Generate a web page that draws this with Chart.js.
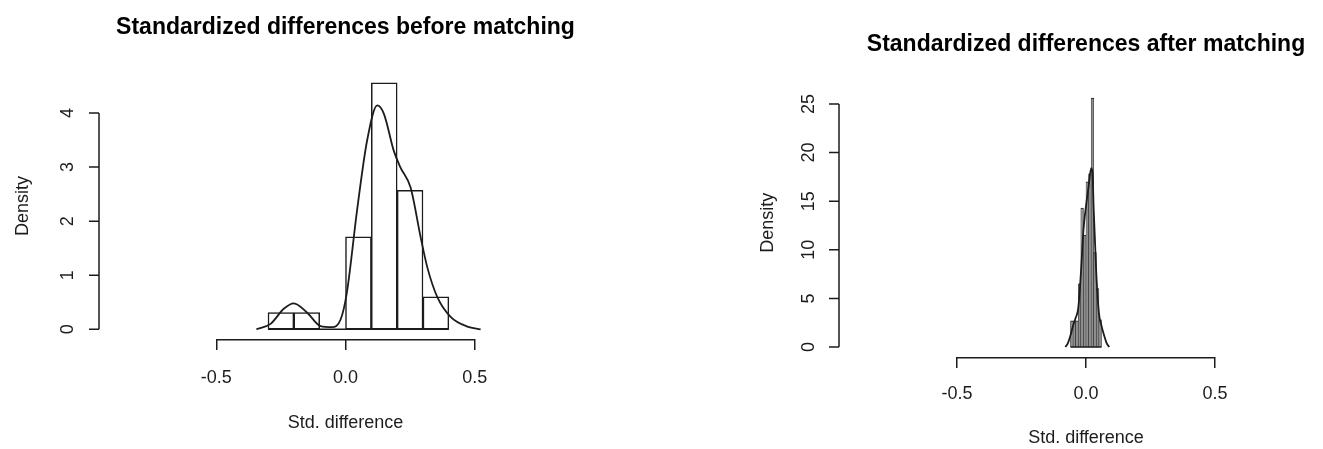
<!DOCTYPE html>
<html>
<head>
<meta charset="utf-8">
<script src="https://cdn.jsdelivr.net/npm/chart.js@4.4.1/dist/chart.umd.min.js"></script>
<style>
  html, body { margin: 0; padding: 0; background: #fff; }
  #wrap { position: relative; width: 1323px; height: 449px; overflow: hidden; }
  canvas { position: absolute; top: 0; }
  #before { left: 0; }
  #after { left: 661px; }
</style>
</head>
<body>
<div id="wrap">
  <canvas id="before" width="661" height="449"></canvas>
  <canvas id="after" width="662" height="449"></canvas>
</div>
<script>
// Standartlashtirilgan farqlar: moslashtirishdan oldin / keyin (R hist + density uslubida)

const X_TICKS = [-0.5, 0, 0.5];
const X_TICK_LABELS = ["-0.5", "0.0", "0.5"];
const X_TITLE = "Std. difference";
const Y_TITLE = "Density";

// Oldin
const BEFORE_TITLE = "Standardized differences before matching";
const BEFORE_EDGES = [-0.3, -0.2, -0.1, 0.0, 0.1, 0.2, 0.3, 0.4];
const BEFORE_DENSITY = [0.31, 0.31, 0, 1.71, 4.56, 2.57, 0.6];
const BEFORE_KDE_X = [-0.345, -0.29, -0.239, -0.2, -0.149, -0.097, -0.052, -0.019, 0.005, 0.045, 0.084, 0.123, 0.149, 0.187, 0.213, 0.252, 0.291, 0.317, 0.355, 0.407, 0.472, 0.523];
const BEFORE_KDE_Y = [0.0, 0.1, 0.38, 0.48, 0.31, 0.06, 0.04, 0.18, 0.67, 2.21, 3.5, 4.14, 3.98, 3.3, 2.99, 2.62, 1.7, 1.14, 0.6, 0.23, 0.05, 0.0];
const BEFORE_Y_TICKS = [0, 1, 2, 3, 4];

// Keyin
const AFTER_TITLE = "Standardized differences after matching";
const AFTER_EDGES = [-0.06, -0.05, -0.04, -0.03, -0.02, -0.01, 0.0, 0.01, 0.02, 0.03, 0.04, 0.05, 0.06];
const AFTER_DENSITY = [2.7, 2.7, 2.7, 6.5, 14.3, 11.5, 17.0, 17.8, 25.6, 9.7, 6.0, 2.8];
const AFTER_KDE_X = [-0.08, -0.07, -0.06, -0.05, -0.04, -0.03, -0.02, -0.01, 0.0, 0.01, 0.02, 0.025, 0.03, 0.04, 0.05, 0.06, 0.07, 0.08, 0.09];
const AFTER_KDE_Y = [0.0, 0.4, 1.2, 2.2, 3.0, 4.0, 7.5, 12.0, 14.5, 16.5, 18.4, 18.0, 14.0, 7.5, 3.5, 2.2, 1.2, 0.4, 0.0];
const AFTER_Y_TICKS = [0, 5, 10, 15, 20, 25];

const INK = "#1c1c1c";
const FONT = "'Liberation Sans', Arial, sans-serif";

Chart.defaults.font.family = FONT;
Chart.defaults.color = INK;

// R uslubidagi qisqa o'qlar: chiziq faqat birinchi va oxirgi tick orasida
const rAxes = {
  id: "rAxes",
  afterDraw(chart, args, o) {
    const { ctx, chartArea: a, scales: { x, y } } = chart;
    ctx.save();
    ctx.strokeStyle = INK;
    ctx.fillStyle = INK;
    ctx.lineWidth = 1.5;

    // x o'q chizig'i (tick va yozuvlar — Chart.js o'zi chizadi)
    const xb = a.bottom + 0.75;
    ctx.beginPath();
    ctx.moveTo(x.getPixelForValue(X_TICKS[0]), xb);
    ctx.lineTo(x.getPixelForValue(X_TICKS[X_TICKS.length - 1]), xb);
    ctx.stroke();

    // y o'q
    const yt = o.yTicks;
    ctx.beginPath();
    ctx.moveTo(o.yAxisX, y.getPixelForValue(yt[0]));
    ctx.lineTo(o.yAxisX, y.getPixelForValue(yt[yt.length - 1]));
    for (const v of yt) {
      const p = y.getPixelForValue(v);
      ctx.moveTo(o.yAxisX, p);
      ctx.lineTo(o.yAxisX - 10, p);
    }
    ctx.stroke();

    ctx.font = `18px ${FONT}`;
    ctx.textAlign = "center";
    ctx.textBaseline = "middle";
    for (const v of yt) {
      ctx.save();
      ctx.translate(o.yLabelX, y.getPixelForValue(v));
      ctx.rotate(-Math.PI / 2);
      ctx.fillText(String(v), 0, 0);
      ctx.restore();
    }
    ctx.save();
    ctx.translate(o.yTitleX, (a.top + a.bottom) / 2);
    ctx.rotate(-Math.PI / 2);
    ctx.fillText(Y_TITLE, 0, 0);
    ctx.restore();

    // sarlavha
    ctx.fillStyle = "#000";
    ctx.font = `bold 23px ${FONT}`;
    ctx.fillText(o.title, (a.left + a.right) / 2, o.titleY);
    ctx.restore();
  },
};

function histChart(el, cfg) {
  const bins = cfg.density.map((d, i) => ({ x: (cfg.edges[i] + cfg.edges[i + 1]) / 2, y: d }));
  const kde = cfg.kdeX.map((v, i) => ({ x: v, y: cfg.kdeY[i] }));
  const base = [{ x: cfg.edges[0], y: 0 }, { x: cfg.edges[cfg.edges.length - 1], y: 0 }];

  return new Chart(el, {
    type: "bar",
    data: {
      datasets: [
        {
          type: "line",
          data: kde,
          borderColor: INK,
          borderWidth: 1.8,
          pointRadius: 0,
          cubicInterpolationMode: "monotone",
          fill: false,
          order: 0,
        },
        {
          type: "bar",
          data: bins,
          backgroundColor: cfg.barFill,
          borderColor: INK,
          borderWidth: cfg.barBorder,
          borderSkipped: false,
          barPercentage: 1,
          categoryPercentage: 1,
          order: 1,
        },
        {
          type: "line",
          data: base,
          borderColor: INK,
          borderWidth: 1.5,
          pointRadius: 0,
          fill: false,
          order: 2,
        },
      ],
    },
    options: {
      responsive: false,
      animation: false,
      devicePixelRatio: 1,
      layout: { padding: cfg.padding },
      scales: {
        x: {
          type: "linear",
          min: -0.54,
          max: 0.54,
          offset: false,
          border: { display: false },
          grid: { offset: false, drawOnChartArea: false, drawTicks: true, tickLength: 11, color: INK, lineWidth: 1.5 },
          afterBuildTicks: (s) => { s.ticks = X_TICKS.map((v) => ({ value: v })); },
          afterFit: (s) => { s.height = cfg.xHeight; },
          ticks: {
            autoSkip: false,
            maxRotation: 0,
            padding: cfg.labelPad,
            color: INK,
            font: { size: 18 },
            callback: (v, i) => X_TICK_LABELS[i],
          },
          title: { display: true, text: X_TITLE, color: INK, font: { size: 18 }, padding: cfg.titlePad },
        },
        y: { display: false, min: cfg.yMin, max: cfg.yMax },
      },
      plugins: {
        legend: { display: false },
        tooltip: { enabled: false },
        rAxes: cfg.axes,
      },
    },
    plugins: [rAxes],
  });
}

histChart(document.getElementById("before"), {
  edges: BEFORE_EDGES,
  density: BEFORE_DENSITY,
  kdeX: BEFORE_KDE_X,
  kdeY: BEFORE_KDE_Y,
  barFill: "#ffffff",
  barBorder: { left: 1.5, right: 1.5, top: 1.6, bottom: 1.6 },
  yMin: -0.18,
  yMax: 4.74,
  padding: { left: 206, right: 176, top: 73, bottom: 0 },
  xHeight: 110,
  labelPad: 17,
  titlePad: { top: 4, bottom: 15 },
  axes: { title: BEFORE_TITLE, titleY: 28, yTicks: BEFORE_Y_TICKS, yAxisX: 99, yLabelX: 68, yTitleX: 23 },
});

histChart(document.getElementById("after"), {
  edges: AFTER_EDGES,
  density: AFTER_DENSITY,
  kdeX: AFTER_KDE_X,
  kdeY: AFTER_KDE_Y,
  barFill: "#8e8e8e",
  barBorder: { left: 0.5, right: 0.5, top: 1, bottom: 1 },
  yMin: -1.02,
  yMax: 26.6,
  padding: { left: 285.7, right: 97.7, top: 88.4, bottom: 0 },
  xHeight: 92.1,
  labelPad: 15,
  titlePad: { top: 2, bottom: 0 },
  axes: { title: AFTER_TITLE, titleY: 45, yTicks: AFTER_Y_TICKS, yAxisX: 178, yLabelX: 148, yTitleX: 107 },
});
</script>
</body>
</html>
